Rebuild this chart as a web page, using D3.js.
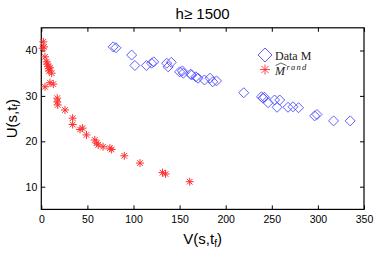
<!DOCTYPE html>
<html>
<head>
<meta charset="utf-8">
<script src="https://cdn.jsdelivr.net/npm/d3@7"></script>
<style>
  body { margin: 0; background: #fff; }
  text { font-family: "Liberation Sans", Arial, sans-serif; }
</style>
</head>
<body>
<div id="chart"></div>
<script>
// reference data
var redV = [1.5, 2.2, 2.9, 4.0, 5.8, 6.5, 7.5, 8.0, 8.5, 9.5, 11.2, 4.0, 9.4, 13.0, 17.3, 17.3, 17.8, 25.7, 34.0, 34.0, 42.0, 44.8, 49.0, 58.0, 60.0, 61.8, 67.0, 74.4, 76.3, 90.0, 107.0, 131.5, 134.8, 161.0];
var redU = [40.5, 41.9, 40.8, 38.6, 37.5, 37.0, 36.5, 36.0, 35.5, 36.2, 35.0, 32.0, 32.9, 32.6, 29.5, 28.7, 28.0, 26.9, 25.1, 23.7, 22.6, 22.9, 21.4, 20.3, 19.6, 19.2, 18.8, 18.5, 18.2, 16.8, 15.2, 13.1, 12.8, 11.1];

var blueV = [78, 81, 98, 101.5, 114, 119.6, 122, 136, 137.6, 141, 150, 153, 154, 162, 163, 167.6, 170, 177, 183, 186, 190, 219.6, 238.8, 240.5, 242, 246, 253, 255.7, 258.6, 267.6, 273, 279, 296.5, 299, 317, 335];
var blueU = [40.8, 40.6, 39, 36.7, 36.7, 37.2, 37.5, 37.2, 36.4, 37.4, 35.3, 35.5, 35.0, 34.8, 34.6, 34.2, 33.9, 33.5, 33.9, 33.1, 33.3, 30.7, 29.8, 29.5, 29.7, 28.5, 29.1, 27.5, 29.1, 27.5, 27.6, 27.4, 25.6, 25.9, 24.5, 24.5];

var xTicks = [0, 50, 100, 150, 200, 250, 300, 350];
var yTicks = [10, 20, 30, 40];

var W = 374, H = 262;
var svg = d3.select("#chart").append("svg")
    .attr("width", W).attr("height", H);

var x = d3.scaleLinear().domain([0, 350]).range([41.3, 364]);
var y = d3.scaleLinear().domain([5, 45]).range([209.4, 27.8]);

var L = x(0), R = x(350), T = y(45), B = y(5);

// axes, ticks inward on all four sides
svg.append("g").attr("transform", "translate(0," + B + ")")
    .call(d3.axisBottom(x).tickValues(xTicks).tickSize(-4).tickPadding(6))
    .call(function(g){ g.select(".domain").remove(); });
svg.append("g").attr("transform", "translate(0," + T + ")")
    .call(d3.axisTop(x).tickValues(xTicks).tickSize(-4).tickFormat(""))
    .call(function(g){ g.select(".domain").remove(); });
svg.append("g").attr("transform", "translate(" + L + ",0)")
    .call(d3.axisLeft(y).tickValues(yTicks).tickSize(-4).tickPadding(4))
    .call(function(g){ g.select(".domain").remove(); });
svg.append("g").attr("transform", "translate(" + R + ",0)")
    .call(d3.axisRight(y).tickValues(yTicks).tickSize(-4).tickFormat(""))
    .call(function(g){ g.select(".domain").remove(); });

svg.selectAll(".tick text")
    .style("font-size", "10.5px")
    .style("font-family", "Liberation Sans, Arial, sans-serif")
    .attr("fill", "#000");
svg.selectAll(".tick line").attr("stroke", "#000");

svg.append("rect")
    .attr("x", L).attr("y", T)
    .attr("width", R - L).attr("height", B - T)
    .attr("fill", "none").attr("stroke", "#000").attr("stroke-width", 1.2);

// markers
function diamond(s) {
  return "M0," + (-s) + "L" + s + ",0L0," + s + "L" + (-s) + ",0Z";
}
function star(s) {
  var d = s * 0.7071;
  return "M" + (-s) + ",0L" + s + ",0M0," + (-s) + "L0," + s +
         "M" + (-d) + "," + (-d) + "L" + d + "," + d +
         "M" + (-d) + "," + d + "L" + d + "," + (-d);
}

var plot = svg.append("g");

plot.selectAll("path.blue")
    .data(blueV.map(function(v, i){ return [v, blueU[i]]; }))
    .enter().append("path")
    .attr("class", "blue")
    .attr("d", diamond(5))
    .attr("transform", function(d){ return "translate(" + x(d[0]) + "," + y(d[1]) + ")"; })
    .attr("fill", "none")
    .attr("stroke", "#4d4dff")
    .attr("stroke-width", 0.9);

plot.selectAll("path.red")
    .data(redV.map(function(v, i){ return [v, redU[i]]; }))
    .enter().append("path")
    .attr("class", "red")
    .attr("d", star(4))
    .attr("transform", function(d){ return "translate(" + x(d[0]) + "," + y(d[1]) + ")"; })
    .attr("fill", "none")
    .attr("stroke", "#ff3030")
    .attr("stroke-width", 1);

// legend
var lg = svg.append("g");
lg.append("path").attr("d", diamond(7))
    .attr("transform", "translate(265,55)")
    .attr("fill", "none").attr("stroke", "#4d4dff").attr("stroke-width", 0.9);
lg.append("text").attr("x", 275).attr("y", 59.5)
    .style("font-family", "Liberation Serif, DejaVu Serif, serif")
    .style("font-size", "12px")
    .attr("fill", "#222")
    .text("Data M");
lg.append("path").attr("d", star(5))
    .attr("transform", "translate(265,69.5)")
    .attr("fill", "none").attr("stroke", "#ff3030").attr("stroke-width", 0.9);
var mt = lg.append("text").attr("x", 275).attr("y", 75)
    .style("font-family", "Liberation Serif, DejaVu Serif, serif")
    .style("font-size", "12px")
    .style("font-style", "italic")
    .attr("fill", "#222");
mt.append("tspan").text("M");
mt.append("tspan").attr("dy", -5).attr("dx", 1.5)
    .style("font-size", "8.5px").style("letter-spacing", "1.2px").text("rand");
lg.append("path")
    .attr("d", "M275.5,65.5L281,63L286.5,65.5")
    .attr("fill", "none").attr("stroke", "#222").attr("stroke-width", 0.7);

// titles
svg.append("text").attr("x", (L + R) / 2).attr("y", 19)
    .attr("text-anchor", "middle")
    .style("font-size", "15px")
    .text("h\u2265 1500");

var xl = svg.append("text").attr("x", (L + R) / 2).attr("y", 244)
    .attr("text-anchor", "middle")
    .style("font-size", "15px")
    .text("V(s,t");
xl.append("tspan").attr("dy", 3).style("font-size", "10px").text("f");
xl.append("tspan").attr("dy", -3).text(")");

var yl = svg.append("text")
    .attr("transform", "translate(17," + ((T + B) / 2) + ") rotate(-90)")
    .attr("text-anchor", "middle")
    .style("font-size", "15px")
    .text("U(s,t");
yl.append("tspan").attr("dy", 3).style("font-size", "10px").text("f");
yl.append("tspan").attr("dy", -3).text(")");
</script>
</body>
</html>
